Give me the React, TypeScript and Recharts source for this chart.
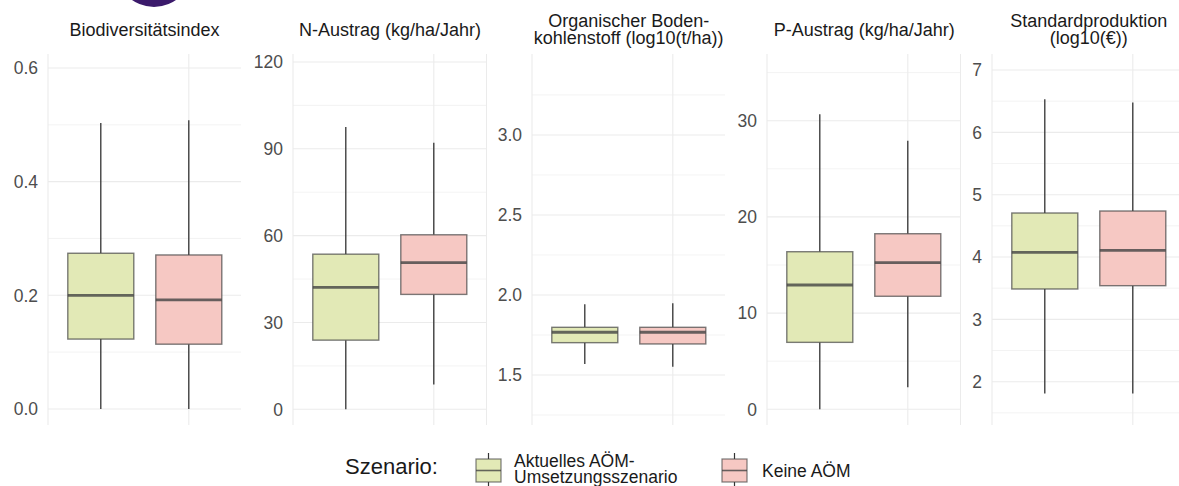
import React from "react";
import { ComposedChart, Bar, XAxis, YAxis, CartesianGrid } from "recharts";

// ---------- data ----------
const scenarios = ["Aktuelles AÖM-Umsetzungsszenario", "Keine AÖM"];

// each row: [min, q1, median, q3, max] for scenario 1 and scenario 2
const biodiversitaet = [
  [0, 0.123, 0.2, 0.274, 0.503],
  [0, 0.114, 0.192, 0.271, 0.508],
];
const nAustrag = [
  [0, 23.9, 42.1, 53.6, 97.5],
  [8.6, 39.7, 50.7, 60.3, 92.1],
];
const bodenkohlenstoff = [
  [1.569, 1.702, 1.767, 1.798, 1.942],
  [1.552, 1.694, 1.767, 1.798, 1.948],
];
const pAustrag = [
  [0, 6.96, 12.92, 16.38, 30.66],
  [2.29, 11.75, 15.24, 18.25, 27.92],
];
const standardproduktion = [
  [1.81, 3.487, 4.075, 4.706, 6.53],
  [1.81, 3.54, 4.107, 4.738, 6.48],
];

const biodivTicks = [0, 0.2, 0.4, 0.6];
const biodivMinor = [0.1, 0.3, 0.5];
const nTicks = [0, 30, 60, 90, 120];
const nMinor = [15, 45, 75, 105];
const socTicks = [1.5, 2.0, 2.5, 3.0];
const socMinor = [1.25, 1.75, 2.25, 2.75, 3.25];
const pTicks = [0, 10, 20, 30];
const pMinor = [5, 15, 25, 35];
const spTicks = [2, 3, 4, 5, 6, 7];
const spMinor = [1.5, 2.5, 3.5, 4.5, 5.5, 6.5];

const titles = [
  ["Biodiversitätsindex"],
  ["N-Austrag (kg/ha/Jahr)"],
  ["Organischer Boden-", "kohlenstoff (log10(t/ha))"],
  ["P-Austrag (kg/ha/Jahr)"],
  ["Standardproduktion", "(log10(€))"],
];

// ---------- styling / layout ----------
const FONT = "'Liberation Sans', Arial, Helvetica, sans-serif";
const FILLS = ["#E2E9B6", "#F6C8C3"];
const PW = 193.6; // panel width
const PAD = 8.8; // ggplot discrete expansion (0.6 units of 2.2)
const AXIS_W = 48;
const TOP = 54;
const BOTTOM = 425;
const H = 486;

const toRows = (stats: number[][]) =>
  stats.map((s, i) => ({
    scenario: scenarios[i],
    min: s[0],
    q1: s[1],
    med: s[2],
    q3: s[3],
    max: s[4],
  }));

const f1 = (v: number) => v.toFixed(1);
const f0 = (v: number) => String(Math.round(v));

const panels = [
  { left: 47.7, rows: toRows(biodiversitaet), domain: [-0.0282, 0.6246], ticks: biodivTicks, minor: biodivMinor, fmt: f1 },
  { left: 293.2, rows: toRows(nAustrag), domain: [-5.42, 122.76], ticks: nTicks, minor: nMinor, fmt: f0 },
  { left: 531.9, rows: toRows(bodenkohlenstoff), domain: [1.1875, 3.506], ticks: socTicks, minor: socMinor, fmt: f1 },
  { left: 767.4, rows: toRows(pAustrag), domain: [-1.63, 36.93], ticks: pTicks, minor: pMinor, fmt: f0 },
  { left: 992.0, rows: toRows(standardproduktion), domain: [1.305, 7.257], ticks: spTicks, minor: spMinor, fmt: f0 },
];

const rangeKey = (d: any) => [d.min, d.max];

const BoxShape = (props: any) => {
  const { x, y, width, height, payload, index } = props;
  if (payload == null || !isFinite(y) || !isFinite(height)) return null;
  const { min, q1, med, q3, max } = payload;
  const span = max - min || 1;
  const py = (v: number) => y + (height * (max - v)) / span;
  const cx = x + width / 2;
  return (
    <g>
      <line x1={cx} x2={cx} y1={py(max)} y2={py(q3)} stroke="#333" strokeWidth={1.3} />
      <line x1={cx} x2={cx} y1={py(q1)} y2={py(min)} stroke="#333" strokeWidth={1.3} />
      <rect
        x={x}
        y={py(q3)}
        width={width}
        height={py(q1) - py(q3)}
        fill={FILLS[index % 2]}
        stroke="#444"
        strokeOpacity={0.7}
        strokeWidth={1.4}
      />
      <line x1={x} x2={x + width} y1={py(med)} y2={py(med)} stroke="#444" strokeOpacity={0.8} strokeWidth={2.8} />
    </g>
  );
};

const Panel = ({ p }: { p: any }) => (
  <div style={{ position: "absolute", left: p.left - AXIS_W, top: 0 }}>
    <ComposedChart
      width={AXIS_W + PW}
      height={H}
      data={p.rows}
      margin={{ top: TOP, right: 0, bottom: H - BOTTOM, left: 0 }}
      barSize={66}
    >
      <CartesianGrid horizontalValues={p.minor} vertical={false} stroke="#F0F0F0" strokeWidth={0.8} />
      <CartesianGrid horizontalValues={p.ticks} stroke="#EBEBEB" strokeWidth={1.1} />
      <XAxis dataKey="scenario" hide padding={{ left: PAD, right: PAD }} />
      <YAxis
        type="number"
        domain={p.domain}
        ticks={p.ticks}
        allowDataOverflow
        interval={0}
        width={AXIS_W}
        axisLine={false}
        tickLine={false}
        tickSize={0}
        tickMargin={10}
        tick={{ fill: "#4D4D4D", fontSize: 17.5, fontFamily: FONT }}
        tickFormatter={p.fmt}
      />
      <Bar dataKey={rangeKey} shape={BoxShape} isAnimationActive={false} />
    </ComposedChart>
  </div>
);

const LegendKey = ({ x, fill }: { x: number; fill: string }) => (
  <g>
    <line x1={x + 12.5} x2={x + 12.5} y1={453} y2={491} stroke="#333" strokeWidth={1.2} />
    <rect x={x} y={459} width={25} height={23} fill={fill} stroke="#444" strokeOpacity={0.7} strokeWidth={1.2} />
    <line x1={x} x2={x + 25} y1={470.5} y2={470.5} stroke="#444" strokeOpacity={0.8} strokeWidth={1.6} />
  </g>
);

export default function App() {
  return (
    <div
      style={{
        position: "fixed",
        left: 0,
        top: 0,
        width: 1179,
        height: H,
        background: "#fff",
        overflow: "hidden",
        fontFamily: FONT,
      }}
    >
      <div
        style={{
          position: "absolute",
          left: 116,
          top: -69,
          width: 76,
          height: 76,
          borderRadius: "50%",
          background: "#3B1A6B",
        }}
      />
      {panels.map((p, i) => (
        <Panel key={i} p={p} />
      ))}
      <svg
        width={1179}
        height={H}
        style={{ position: "absolute", left: 0, top: 0, pointerEvents: "none" }}
        fontFamily={FONT}
      >
        {panels.map((p, i) => {
          const cx = p.left + PW / 2;
          const lines = titles[i];
          const ys = lines.length === 1 ? [36] : [27, 44];
          return lines.map((t, j) => (
            <text key={`${i}-${j}`} x={cx} y={ys[j]} textAnchor="middle" fontSize={18} fill="#1A1A1A">
              {t}
            </text>
          ));
        })}
        <text x={345} y={474} fontSize={22} fill="#1A1A1A">
          Szenario:
        </text>
        <LegendKey x={476} fill={FILLS[0]} />
        <text x={514} y={467} fontSize={17.5} fill="#1A1A1A">
          Aktuelles AÖM-
        </text>
        <text x={514} y={483} fontSize={17.5} fill="#1A1A1A">
          Umsetzungsszenario
        </text>
        <LegendKey x={722} fill={FILLS[1]} />
        <text x={762} y={476.5} fontSize={17.5} fill="#1A1A1A">
          Keine AÖM
        </text>
      </svg>
    </div>
  );
}
